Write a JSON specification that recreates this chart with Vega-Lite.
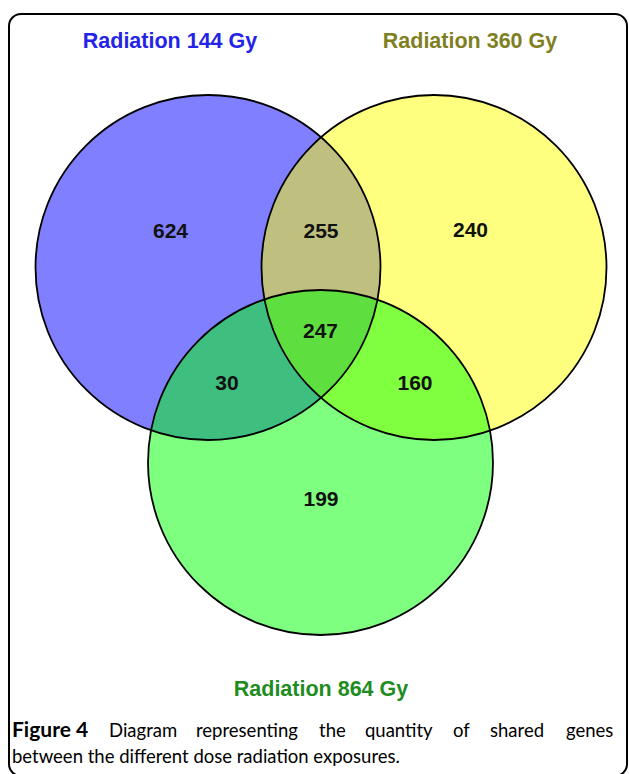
{
  "$schema": "https://vega.github.io/schema/vega-lite/v6.json",
  "width": 618,
  "height": 762,
  "autosize": {"type": "none"},
  "padding": {"left": 9, "top": 14, "right": 2, "bottom": -2},
  "background": "white",
  "config": {"view": {"stroke": "#000000", "strokeWidth": 2, "cornerRadius": 12}},
  "datasets": {
    "sets": [
      {"set": "Radiation 144 Gy", "cx": 208, "cy": 267.5},
      {"set": "Radiation 360 Gy", "cx": 434, "cy": 267.5},
      {"set": "Radiation 864 Gy", "cx": 320.5, "cy": 462.5}
    ],
    "counts": [
      {"region": "144 only", "n": 624, "x": 170.5, "y": 232},
      {"region": "144 & 360", "n": 255, "x": 321, "y": 232},
      {"region": "360 only", "n": 240, "x": 470.5, "y": 231},
      {"region": "all three", "n": 247, "x": 320.5, "y": 331.5},
      {"region": "144 & 864", "n": 30, "x": 227, "y": 384},
      {"region": "360 & 864", "n": 160, "x": 415, "y": 384},
      {"region": "864 only", "n": 199, "x": 321, "y": 500}
    ],
    "names": [
      {"set": "Radiation 144 Gy", "x": 170, "y": 42},
      {"set": "Radiation 360 Gy", "x": 470, "y": 42},
      {"set": "Radiation 864 Gy", "x": 321, "y": 690}
    ],
    "captionBold": [
      {"text": "Figure 4", "x": 12, "y": 731}
    ],
    "captionPlain": [
      {"text": "Diagram", "x": 109, "y": 731},
      {"text": "representing", "x": 196, "y": 731},
      {"text": "the", "x": 319, "y": 731},
      {"text": "quantity", "x": 365, "y": 731},
      {"text": "of", "x": 453, "y": 731},
      {"text": "shared", "x": 490, "y": 731},
      {"text": "genes", "x": 566, "y": 731},
      {"text": "between the different dose radiation exposures.", "x": 12, "y": 757}
    ]
  },
  "layer": [
    {
      "data": {"name": "sets"},
      "mark": {"type": "point", "shape": "circle", "filled": true, "size": 119025, "opacity": 1, "fillOpacity": 0.5, "strokeWidth": 0},
      "encoding": {
        "x": {"field": "cx", "type": "quantitative", "scale": {"domain": [9, 627], "nice": false, "zero": false}, "axis": null},
        "y": {"field": "cy", "type": "quantitative", "scale": {"domain": [14, 776], "nice": false, "zero": false, "reverse": true}, "axis": null},
        "fill": {"field": "set", "type": "nominal", "scale": {"domain": ["Radiation 144 Gy", "Radiation 360 Gy", "Radiation 864 Gy"], "range": ["#0000FF", "#FFFF00", "#00FF00"]}, "legend": null}
      }
    },
    {
      "data": {"name": "sets"},
      "mark": {"type": "point", "shape": "circle", "filled": false, "size": 119025, "opacity": 1, "stroke": "#000000", "strokeWidth": 1.8},
      "encoding": {
        "x": {"field": "cx", "type": "quantitative"},
        "y": {"field": "cy", "type": "quantitative"}
      }
    },
    {
      "data": {"name": "counts"},
      "mark": {"type": "text", "font": "Liberation Sans", "fontWeight": "bold", "fontSize": 21, "color": "#111111", "align": "center", "baseline": "middle"},
      "encoding": {
        "x": {"field": "x", "type": "quantitative"},
        "y": {"field": "y", "type": "quantitative"},
        "text": {"field": "n", "type": "quantitative"}
      }
    },
    {
      "data": {"name": "names"},
      "mark": {"type": "text", "font": "Liberation Sans", "fontWeight": "bold", "fontSize": 21.5, "align": "center", "baseline": "middle"},
      "encoding": {
        "x": {"field": "x", "type": "quantitative"},
        "y": {"field": "y", "type": "quantitative"},
        "text": {"field": "set", "type": "nominal"},
        "color": {"field": "set", "type": "nominal", "scale": {"domain": ["Radiation 144 Gy", "Radiation 360 Gy", "Radiation 864 Gy"], "range": ["#2424E8", "#7F7F1F", "#1E8C1E"]}, "legend": null}
      }
    },
    {
      "data": {"name": "captionBold"},
      "mark": {"type": "text", "font": "Lato", "fontWeight": "bold", "fontSize": 21, "color": "#000000", "align": "left", "baseline": "middle"},
      "encoding": {
        "x": {"field": "x", "type": "quantitative"},
        "y": {"field": "y", "type": "quantitative"},
        "text": {"field": "text", "type": "nominal"}
      }
    },
    {
      "data": {"name": "captionPlain"},
      "mark": {"type": "text", "font": "Lato", "fontSize": 18.5, "color": "#000000", "align": "left", "baseline": "middle"},
      "encoding": {
        "x": {"field": "x", "type": "quantitative"},
        "y": {"field": "y", "type": "quantitative"},
        "text": {"field": "text", "type": "nominal"}
      }
    }
  ]
}
